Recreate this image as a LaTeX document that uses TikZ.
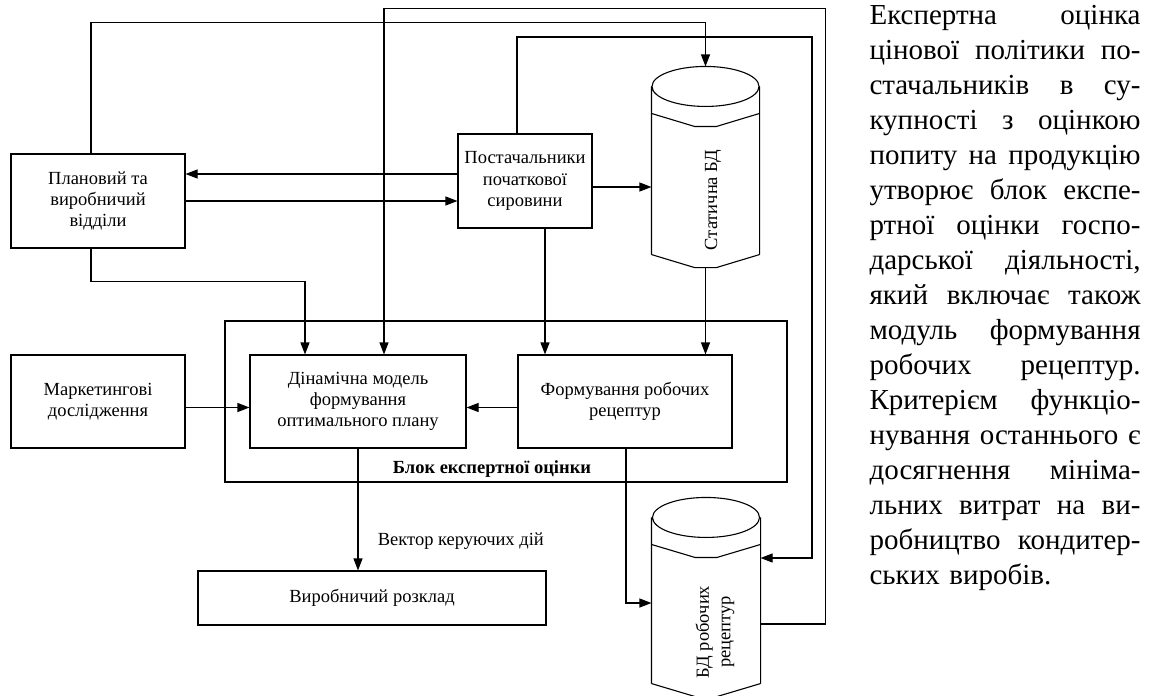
\documentclass[tikz,border=0pt]{standalone}
\usepackage{fontspec}
\setmainfont{Liberation Serif}
\usetikzlibrary{arrows.meta}
\newcommand{\jline}[1]{\hbox to 271pt{#1}}
\newcommand{\dbshape}[1]{%
  \draw ([yshift=-20pt]#1.north) ellipse [x radius=53.5pt, y radius=20pt]
    ([yshift=-20pt]#1.north west) -- ([yshift=13pt]#1.south west)
    ([yshift=-20pt]#1.north east) -- ([yshift=13pt]#1.south east)
    ([yshift=-47pt]#1.north west) -- ([xshift=-11pt, yshift=-60pt]#1.north) -- ([xshift=11pt, yshift=-60pt]#1.north) -- ([yshift=-47pt]#1.north east)
    ([yshift=13pt]#1.south west) -- ([xshift=-11pt]#1.south) -- ([xshift=11pt]#1.south) -- ([yshift=13pt]#1.south east);}
\tikzset{
  every picture/.style={line width=1.1pt, font=\fontsize{18.5}{21.3}\selectfont},
  box/.style={draw, align=center, inner sep=2pt, minimum width=#1},
  box/.default=174pt,
  dbnode/.style={inner sep=0pt, minimum width=107pt},
  arrow/.style={-{Triangle[length=12pt, width=9pt]}},
  note/.style={align=center},
  body/.style={inner sep=0pt, text width=271pt, font=\fontsize{29}{35}\selectfont},
}

\begin{document}
\begin{tikzpicture}[x=1pt, y=-1pt]
  \useasboundingbox (0, 0) rectangle (1154, 696);
  \node[box, minimum height=94pt] (plan) at (98, 201) {Плановий та\\виробничий\\відділи};
  \node[box=134pt, minimum height=94pt] (supp) at (525, 181) {Постачальники\\початкової\\сировини};
  \node[dbnode, minimum height=200pt] (stat) at (705.5, 167) {};
  \dbshape{stat}
  \node[note, rotate=90] (statlbl) at (713, 200) {Статична БД};
  \node[box=562pt, minimum height=161pt] (block) at (506, 401.5) {};
  \node[note, font=\fontsize{18.5}{21.3}\selectfont\bfseries] (blocklbl) at (492, 469) {Блок експертної оцінки};
  \node[box, minimum height=93pt] (mark) at (98, 401.5) {Маркетингові\\дослідження};
  \node[box=216pt, minimum height=93pt] (dyn) at (358, 401.5) {Дінамічна модель\\формування\\оптимального плану};
  \node[box=214pt, minimum height=93pt] (form) at (625, 401.5) {Формування робочих\\рецептур};
  \node[box=348pt, minimum height=54pt] (sched) at (372, 598) {Виробничий розклад};
  \node[dbnode, minimum width=108pt, minimum height=198pt] (recdb) at (706, 597) {};
  \dbshape{recdb}
  \node[note, rotate=90] (recdblbl) at (715, 632) {БД робочих\\рецептур};
  \draw[arrow] ([xshift=-7pt]plan.north) |- ([yshift=44pt]stat.north) -- (stat.north);
  \draw[arrow] ([yshift=-27pt]recdb.east) -- ++(65, 0) |- ([xshift=26pt, yshift=346pt]dyn.north) -- ([xshift=26pt]dyn.north);
  \draw[arrow] ([xshift=-8pt]supp.north) |- (812, 37) |- ([yshift=39pt]recdb.east);
  \draw[arrow] ([yshift=7pt]supp.west) -- ([yshift=7pt]supp.west -| plan.east);
  \draw[arrow] (plan.east) -- (plan.east -| supp.west);
  \draw[arrow] ([yshift=-6pt]supp.east) -- ([yshift=-6pt]supp.east -| stat.west);
  \draw[arrow] ([xshift=20pt]supp.south) -- ([xshift=20pt]supp.south |- form.north);
  \draw[arrow] (stat.south) -- (stat.south |- form.north);
  \draw[arrow] ([yshift=-6pt]form.west) -- ([yshift=-6pt]form.west -| dyn.east);
  \draw[arrow] ([yshift=-6pt]mark.east) -- ([yshift=-6pt]mark.east -| dyn.west);
  \draw[arrow] ([xshift=-7pt]plan.south) |- ([xshift=-53pt, yshift=73pt]dyn.north) -- ([xshift=-53pt]dyn.north);
  \draw[arrow] (dyn.south) -- (dyn.south |- sched.north) node[pos=0.76, right=16pt] {Вектор керуючих дій};
  \draw[arrow] ([xshift=1pt]form.south) |- ([yshift=-6pt]recdb.west);
  \node[body, anchor=north west] (expl) at (869, 5) {%
    \jline{Експертна \hfill оцінка}
    \jline{цінової \hfill політики \hfill по-}
    \jline{стачальників \hfill в \hfill су-}
    \jline{купності \hfill з \hfill оцінкою}
    \jline{попиту \hfill на \hfill продукцію}
    \jline{утворює \hfill блок \hfill експе-}
    \jline{ртної \hfill оцінки \hfill госпо-}
    \jline{дарської \hfill діяльності,}
    \jline{який \hfill включає \hfill також}
    \jline{модуль \hfill формування}
    \jline{робочих \hfill рецептур.}
    \jline{Критерієм \hfill функціо-}
    \jline{нування \hfill останнього \hfill є}
    \jline{досягнення \hfill мініма-}
    \jline{льних \hfill витрат \hfill на \hfill ви-}
    \jline{робництво \hfill кондитер-}
    \hbox{ських виробів.}};
\end{tikzpicture}
\end{document}
